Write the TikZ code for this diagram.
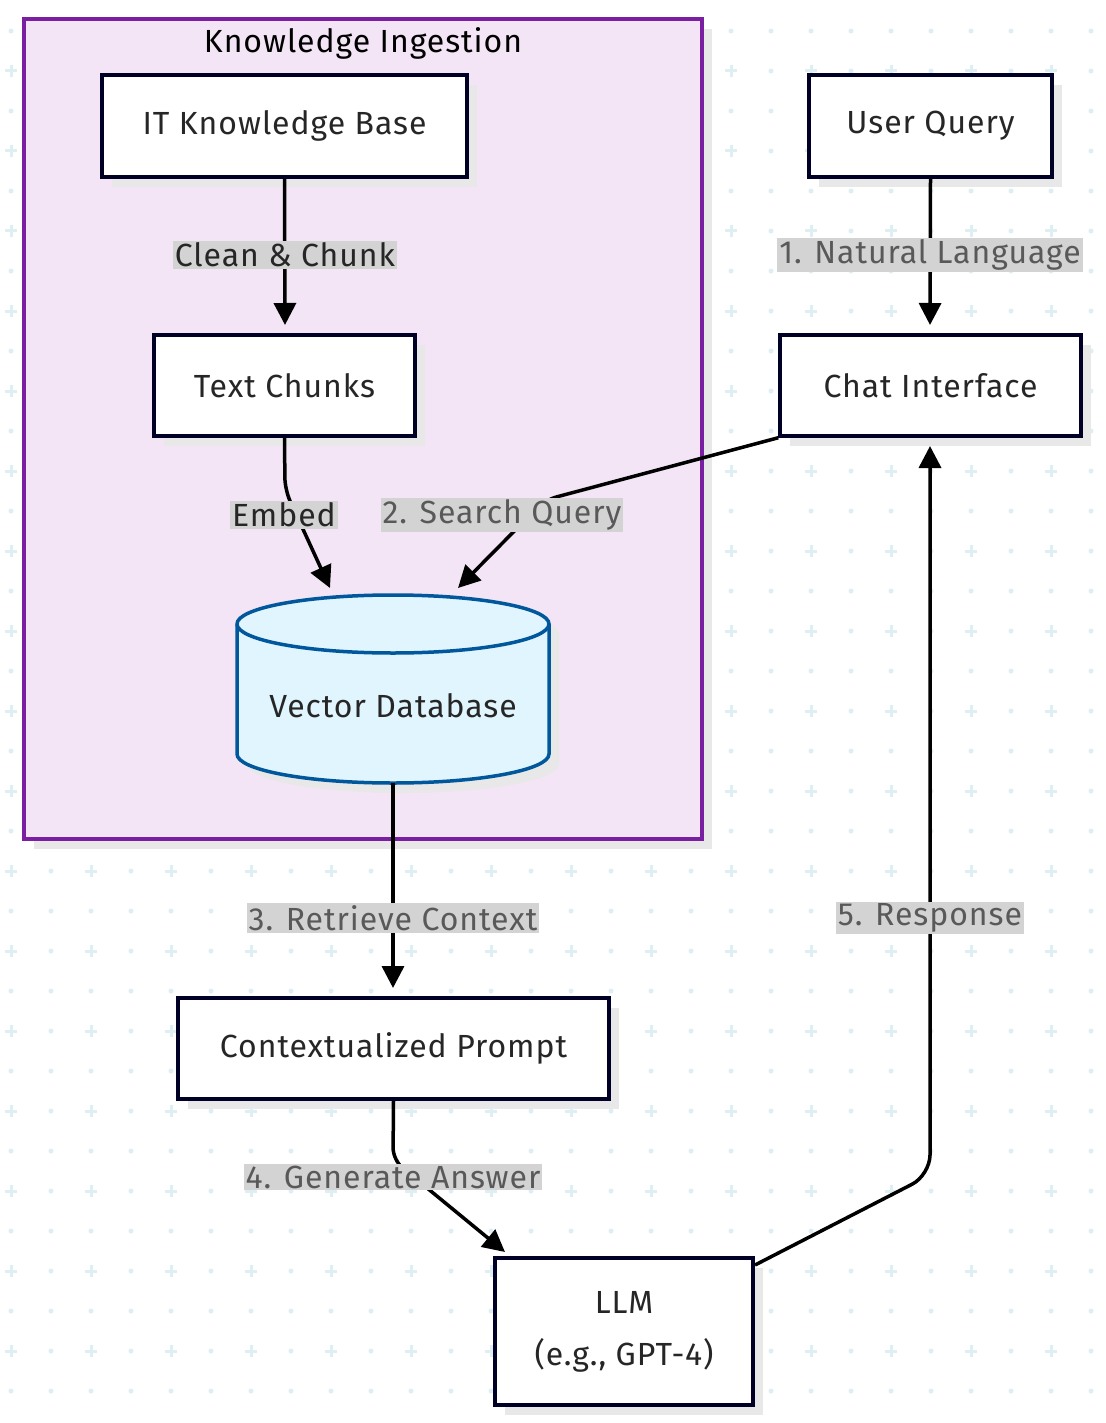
\documentclass[tikz,border=0pt]{standalone}
\usepackage{fontspec}
\setmainfont{Fira Sans}[LetterSpace=3]
\usetikzlibrary{shapes.geometric,arrows.meta}
\definecolor{grid}{HTML}{DDEFF2}
\definecolor{clfill}{HTML}{F3E5F5}
\definecolor{clline}{HTML}{7B1FA2}
\definecolor{dbfill}{HTML}{E1F5FE}
\definecolor{dbline}{HTML}{01579B}
\definecolor{lblbg}{HTML}{D3D3D3}
\definecolor{shad}{HTML}{E8E8E8}
\begin{document}
\begin{tikzpicture}[x=1pt,y=-1pt,
  box/.style={draw=black!85!blue,line width=3.5pt,fill=white,font=\fontsize{32}{38}\selectfont,text=black!85},
  lbl/.style={fill=lblbg,font=\fontsize{32}{38}\selectfont,text=black!65,inner sep=2pt},
  edge/.style={line width=3.5pt,rounded corners=12pt,-{Triangle[length=22pt,width=22pt]}}]
\useasboundingbox (0,0) rectangle (1105,1423);
\fill[white] (0,0) rectangle (1105,1423);
% background pattern
\foreach \i in {0,...,27}{\foreach \j in {0,...,35}{
  \pgfmathsetmacro\xx{11+40*\i}\pgfmathsetmacro\yy{31+40*\j}
  \pgfmathtruncatemacro\pl{(mod(\i,2)==0 && mod(\j,2)==1)?1:0}
  \ifnum\pl=1
    \draw[grid,line width=3pt] (\xx-6,\yy)--(\xx+6,\yy) (\xx,\yy-6)--(\xx,\yy+6);
  \else
    \fill[grid] (\xx,\yy) circle (2.5);
  \fi}}
% cluster
\fill[shad] (34,29) rectangle (712,849);
\draw[clline,fill=clfill,line width=3.5pt] (24,19) rectangle (702,839);
\node[font=\fontsize{32}{38}\selectfont] (title) at (363,43) {Knowledge Ingestion};
% shadows
\foreach \a/\b/\c/\d in {102/75/467/177,154/335/415/436,809/75/1052/177,780/335/1081/436,178/998/609/1099,495/1258/753/1405}
  \fill[shad] (\a+10,\b+10) rectangle (\c+10,\d+10);
\node[box,minimum width=365,minimum height=102] (kb) at (284.5,126) {IT Knowledge Base};
\node[box,minimum width=261,minimum height=101] (tc) at (284.5,385.5) {Text Chunks};
\node[box,minimum width=243,minimum height=102] (uq) at (930.5,126) {User Query};
\node[box,minimum width=301,minimum height=101] (ci) at (930.5,385.5) {Chat Interface};
\node[box,minimum width=431,minimum height=101] (cp) at (393.5,1048.5) {Contextualized Prompt};
\node[box,minimum width=258,minimum height=147,align=center] (llm) at (624,1331.5) {LLM\\[14pt](e.g., GPT-4)};
% cylinder
\fill[shad] (247,634) -- (247,764) arc[start angle=180,end angle=0,x radius=156,y radius=29] -- (559,634) arc[start angle=0,end angle=-180,x radius=156,y radius=29] -- cycle;
\draw[dbline,fill=dbfill,line width=3.5pt] (237,624) -- (237,754) arc[start angle=180,end angle=0,x radius=156,y radius=29] -- (549,624) arc[start angle=0,end angle=-180,x radius=156,y radius=29] -- cycle;
\draw[dbline,line width=3.5pt] (237,624) arc[start angle=180,end angle=0,x radius=156,y radius=29];
\node[font=\fontsize{32}{38}\selectfont,text=black!85] (vdb) at (393,706) {Vector Database};
\coordinate (vdbbot) at (393,783);
% edges
\draw[edge] (tc.south) -- (285,490) -- (330,588);
\draw[edge] (ci.south west) -- (545,500) -- (458,588);
\draw[edge] (kb.south) -- (285,325);
\node[lbl,text=black!85] (l1) at (285,255) {Clean \& Chunk};
\draw[edge] (uq.south) -- (930,325);
\node[lbl] (l2) at (930,255) {1. Natural Language};
\node[lbl,text=black!85] (l3) at (284,515) {Embed};
\node[lbl] (l4) at (502,515) {2. Search Query};
\draw[edge] (vdbbot) -- (393,988);
\node[lbl] (l5) at (393,918) {3. Retrieve Context};
\draw[edge] (cp.south) -- (393,1160) -- (505,1252);
\node[lbl] (l6) at (393,1177) {4. Generate Answer};
\draw[edge,rounded corners=20pt] (755,1265) -- (930,1175) -- (930,446);
\node[lbl] (l7) at (930,918) {5. Response};
\end{tikzpicture}
\end{document}
